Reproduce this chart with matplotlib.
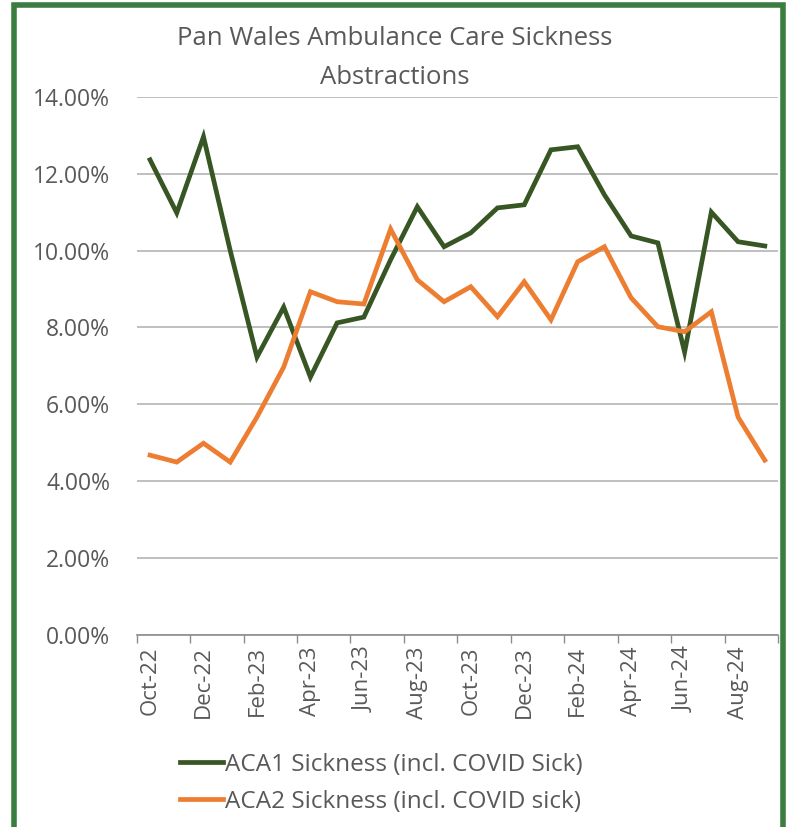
import matplotlib.pyplot as plt
from matplotlib.patches import Rectangle
from matplotlib.ticker import FuncFormatter, FixedLocator

plt.rcParams['font.family'] = ['Open Sans', 'DejaVu Sans']

months = ['Oct-22', 'Nov-22', 'Dec-22', 'Jan-23', 'Feb-23', 'Mar-23', 'Apr-23', 'May-23',
          'Jun-23', 'Jul-23', 'Aug-23', 'Sep-23', 'Oct-23', 'Nov-23', 'Dec-23', 'Jan-24',
          'Feb-24', 'Mar-24', 'Apr-24', 'May-24', 'Jun-24', 'Jul-24', 'Aug-24', 'Sep-24']
aca1 = [12.36, 10.98, 12.96, 10.0, 7.23, 8.53, 6.71, 8.12, 8.27, 9.76, 11.14, 10.10,
        10.46, 11.11, 11.19, 12.62, 12.70, 11.45, 10.38, 10.20, 7.36, 11.0, 10.23, 10.12]
aca2 = [4.68, 4.50, 4.99, 4.50, 5.67, 6.97, 8.93, 8.67, 8.61, 10.56, 9.24, 8.67,
        9.06, 8.28, 9.19, 8.20, 9.71, 10.10, 8.77, 8.02, 7.89, 8.41, 5.67, 4.55]
label1 = 'ACA1 Sickness (incl. COVID Sick)'
label2 = 'ACA2 Sickness (incl. COVID sick)'

grey = '#595959'
fig = plt.figure(figsize=(7.9, 8.27), dpi=100)
ax = fig.add_axes([0.173, 0.232, 0.812, 0.651])

x = list(range(len(months)))
l1, = ax.plot(x, aca1, color='#375623', lw=3.4, solid_joinstyle='miter', zorder=3)
l2, = ax.plot(x, aca2, color='#ed7d31', lw=3.4, solid_joinstyle='miter', zorder=3)

ax.set_ylim(0, 14)
ax.set_yticks([0, 2, 4, 6, 8, 10, 12, 14])
ax.yaxis.set_major_formatter(FuncFormatter(lambda v, p: f'{v:.2f}%'))
ax.grid(axis='y', color='#bfbfbf', lw=1.4)
ax.set_axisbelow(True)

ax.set_xlim(-0.5, len(months) - 0.5)
ax.set_xticks(x[::2])
ax.set_xticklabels(months[::2], rotation=90)
ax.xaxis.set_minor_locator(FixedLocator([i - 0.5 for i in range(0, len(months) + 1, 2)]))
ax.tick_params(axis='x', which='major', length=0, pad=8, labelsize=16, labelcolor=grey)
ax.tick_params(axis='x', which='minor', length=6, color='#8c8c8c', width=1)
ax.tick_params(axis='y', length=0, pad=19, labelsize=16.5, labelcolor=grey)

for s in ['top', 'right', 'left']:
    ax.spines[s].set_visible(False)
ax.spines['bottom'].set_color('#8c8c8c')
ax.spines['bottom'].set_linewidth(1.2)

fig.text(0.5, 0.968, 'Pan Wales Ambulance Care Sickness\nAbstractions', ha='center', va='top',
         fontsize=18.5, color=grey, linespacing=1.7)

fig.legend([l1, l2], [label1, label2], loc='upper left', bbox_to_anchor=(0.228, 0.09),
           frameon=False, fontsize=17.5, labelcolor=grey, handlelength=1.75,
           handletextpad=0.1, labelspacing=0.55, borderpad=0, borderaxespad=0)

fig.patches.append(Rectangle((0.018, -0.02), 0.973, 1.014, transform=fig.transFigure,
                             fill=False, edgecolor='#3b7d3f', lw=4))

fig.savefig('out.png', dpi=100)
